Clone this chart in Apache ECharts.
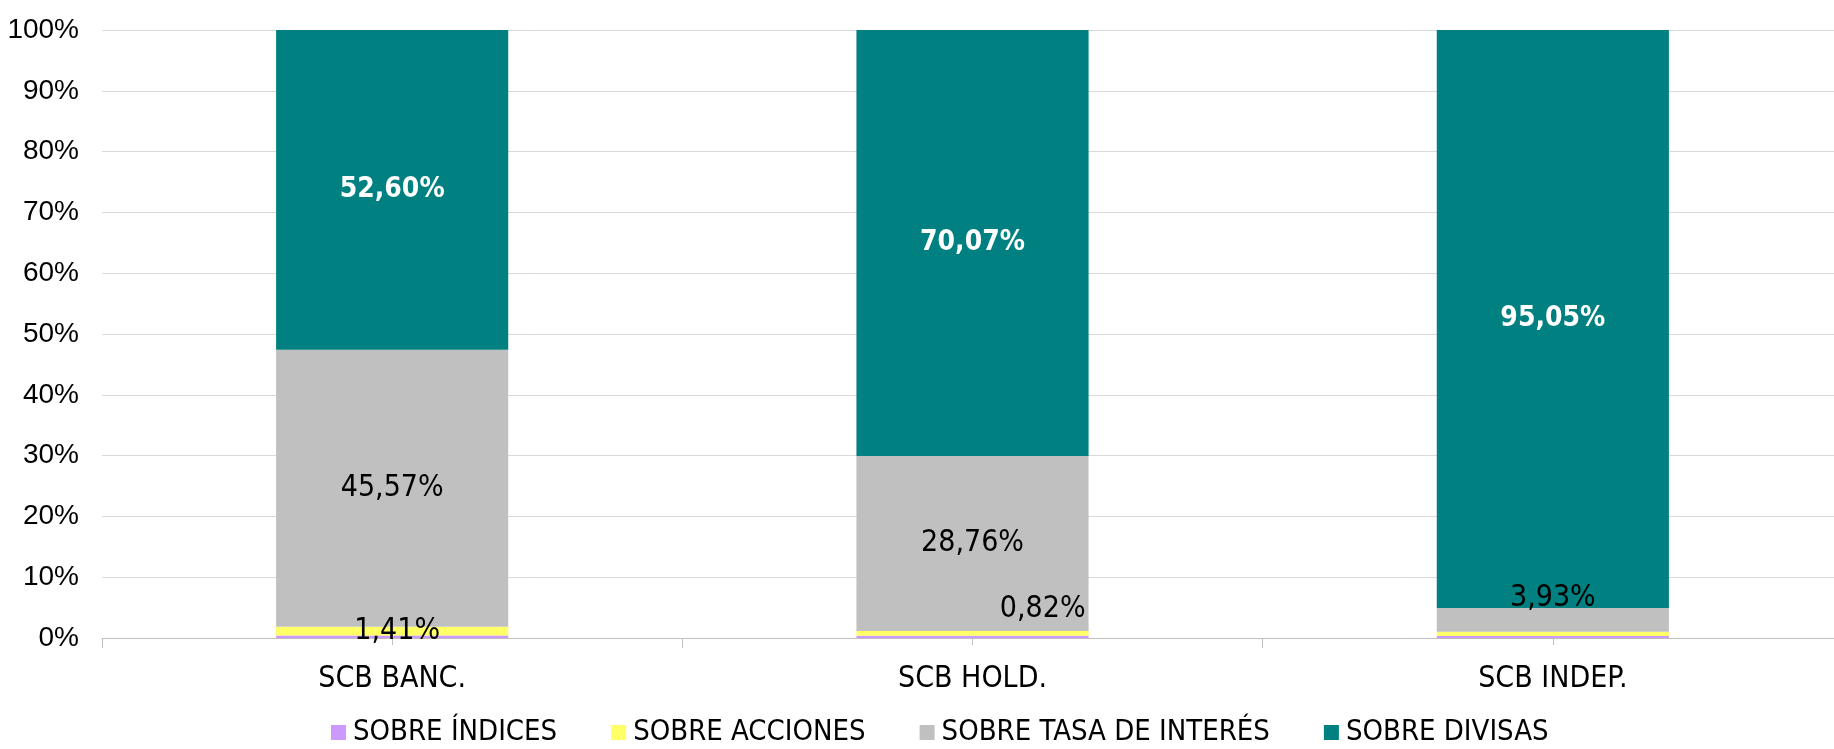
<!DOCTYPE html>
<html>
<head>
    <meta charset="utf-8">
    <title>Derivados por subyacente</title>
    <script type="text/javascript" src="https://cdn.jsdelivr.net/npm/echarts@6/dist/echarts.min.js"></script>
    <style>
        html, body {
            margin: 0;
            padding: 0;
            background: #fff;
        }

        #chart {
            width: 1834px;
            height: 749px;
        }
    </style>
</head>
<body>
    <div id="chart"></div>
<script type="text/javascript">
    // datos (% del total por tipo de sociedad)
    var categorias = ['SCB BANC.', 'SCB HOLD.', 'SCB INDEP.'];
    var sobreIndices = [0.42, 0.35, 0.32];
    var sobreAcciones = [1.41, 0.82, 0.70];
    var sobreTasa = [45.57, 28.76, 3.93];
    var sobreDivisas = [52.60, 70.07, 95.05];
    var yTicks = [0, 10, 20, 30, 40, 50, 60, 70, 80, 90, 100];

    var narrow = "'Liberation Sans Narrow', 'DejaVu Sans Condensed', sans-serif";

    function pct(v) {
        return v.toFixed(2).replace('.', ',') + '%';
    }

    function lbl(p) {
        return pct(p.value);
    }

    var option = {
        animation: false,
        grid: {
            left: 102,
            right: -9,
            top: 30,
            bottom: 111,
            outerBoundsMode: 'none'
        },
        legend: {
            top: 718,
            left: 331,
            padding: 0,
            itemWidth: 15,
            itemHeight: 15,
            itemGap: 54,
            icon: 'rect',
            textStyle: {
                fontFamily: narrow,
                fontSize: 29,
                color: '#000',
                padding: [0, 0, 0, 2]
            },
            data: ['SOBRE ÍNDICES', 'SOBRE ACCIONES', 'SOBRE TASA DE INTERÉS', 'SOBRE DIVISAS']
        },
        xAxis: [{
            type: 'category',
            data: categorias,
            axisLine: {
                lineStyle: { color: '#bfbfbf', width: 1 }
            },
            axisTick: {
                show: true,
                length: 10,
                lineStyle: { color: '#bfbfbf' }
            },
            axisLabel: {
                fontFamily: narrow,
                fontSize: 30,
                color: '#000',
                margin: 26
            }
        }, {
            type: 'category',
            data: categorias,
            position: 'bottom',
            axisLine: { show: false },
            axisTick: {
                show: true,
                alignWithLabel: true,
                length: 7,
                lineStyle: { color: '#bfbfbf' }
            },
            axisLabel: { show: false }
        }],
        yAxis: {
            type: 'value',
            min: yTicks[0],
            max: yTicks[yTicks.length - 1],
            interval: 10,
            axisLine: { show: false },
            axisTick: { show: false },
            splitLine: {
                lineStyle: { color: '#d9d9d9', width: 1 }
            },
            axisLabel: {
                formatter: '{value}%',
                fontFamily: "'Liberation Sans', Arial, sans-serif",
                fontSize: 28,
                color: '#000',
                margin: 23
            }
        },
        series: [{
            name: 'SOBRE ÍNDICES',
            type: 'bar',
            stack: 'total',
            barWidth: '40%',
            itemStyle: { color: '#cc99ff' },
            data: sobreIndices
        }, {
            name: 'SOBRE ACCIONES',
            type: 'bar',
            stack: 'total',
            itemStyle: { color: '#ffff66' },
            label: {
                show: true,
                formatter: lbl,
                fontFamily: narrow,
                fontSize: 30,
                color: '#000'
            },
            data: [
                { value: sobreAcciones[0], label: { position: 'inside', offset: [5, 0] } },
                { value: sobreAcciones[1], label: { position: 'insideRight', offset: [2, -24] } },
                { value: sobreAcciones[2], label: { show: false } }
            ]
        }, {
            name: 'SOBRE TASA DE INTERÉS',
            type: 'bar',
            stack: 'total',
            itemStyle: { color: '#c0c0c0' },
            label: {
                show: true,
                formatter: lbl,
                fontFamily: narrow,
                fontSize: 30,
                color: '#000'
            },
            data: [
                { value: sobreTasa[0], label: { position: 'inside' } },
                { value: sobreTasa[1], label: { position: 'inside' } },
                { value: sobreTasa[2], label: { position: 'top', distance: -5 } }
            ]
        }, {
            name: 'SOBRE DIVISAS',
            type: 'bar',
            stack: 'total',
            itemStyle: { color: '#008080' },
            label: {
                show: true,
                position: 'inside',
                formatter: lbl,
                fontFamily: narrow,
                fontWeight: 'bold',
                fontSize: 28,
                color: '#fff'
            },
            data: sobreDivisas
        }]
    };

    var myChart = echarts.init(document.getElementById('chart'));
    myChart.setOption(option);
</script>
</body>
</html>
